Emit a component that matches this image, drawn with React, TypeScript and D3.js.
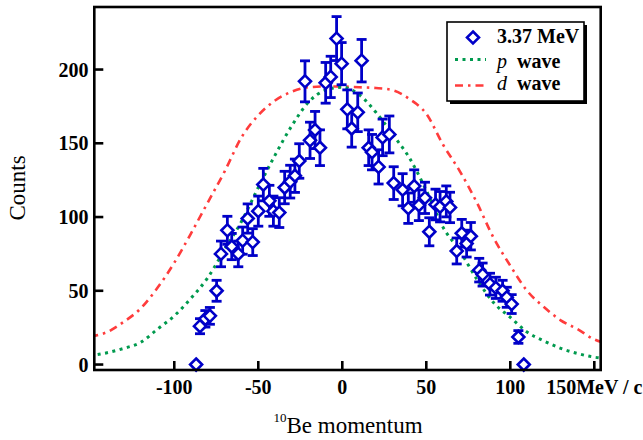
import React from "react";
import * as d3 from "d3";

// ---- data ----
const momentum = [
  -87, -84.7, -81.5, -78.8, -74.8, -72.2, -68.4, -65.8, -61.9, -59.3, -56.3, -53.3, -50, -47,
  -43.4, -41, -37.5, -34.3, -31, -28.2, -25.6, -22.2, -19.2, -16.2, -13.3, -9.9, -6.9, -3.4,
  -0.4, 3, 5.6, 9.2, 11.5, 15.7, 17.7, 21.6, 24, 28, 30.6, 35.9, 39.3, 42.8, 45.6, 49.2, 51.8,
  55.5, 58.2, 61.9, 64.1, 68.1, 71.1, 74, 76.5, 81.5, 83.5, 87.9, 91.4, 95.4, 97.9, 100.8,
  104.8, 108,
];
const counts = [
  0, 26, 31, 33, 50, 75, 91, 80, 75, 84, 99, 83, 104, 122,
  111, 104, 103, 120, 124, 128, 138, 192, 152, 159, 147, 191, 195, 221,
  204, 173, 160, 171, 206, 147, 144, 134, 154, 156, 123, 118.5, 106, 121, 108, 113, 90,
  108.5, 107, 110.6, 106.5, 77, 89, 82, 87, 64, 61, 54.5, 52, 50, 45.6, 41,
  18.7, 0,
];
const errors = [
  0, 5.1, 5.6, 5.7, 7.1, 8.7, 9.5, 8.9, 8.7, 9.2, 9.9, 9.1, 10.2, 11,
  10.5, 10.2, 10.1, 11, 11.1, 11.3, 11.7, 13.9, 12.3, 12.6, 12.1, 13.8, 14, 14.9,
  14.3, 13.2, 12.6, 13.1, 14.4, 12.1, 12, 11.6, 12.4, 12.5, 11.1, 10.9, 10.3, 11, 10.4, 10.6, 9.5,
  10.4, 10.3, 10.5, 10.3, 8.8, 9.4, 9.1, 9.3, 8, 7.8, 7.4, 7.2, 7.1, 6.8, 6.4,
  4.3, 0,
];

const curveX = [
  -150, -140, -130, -120, -110, -100, -90, -80, -70, -60, -50, -40, -30, -20, -10, 0,
  10, 20, 30, 40, 50, 60, 70, 80, 90, 100, 110, 120, 130, 140, 150, 160,
];
const pWave = [
  6, 8, 11, 15, 24, 33, 45, 59, 78, 97, 120, 142, 162, 178, 186, 188,
  183, 171, 156, 140, 118, 93, 77, 58, 42, 32, 22, 16, 11, 7.5, 5, 4,
];
const dWave = [
  19, 22, 29, 38, 52, 69, 89, 110, 131, 154, 169, 179, 185, 188, 188.5, 188.5,
  188, 187.5, 186, 180, 170, 149, 131, 110, 86, 67, 50, 39, 30, 24, 17, 14,
];

const xTicks = [-100, -50, 0, 50, 100, 150];
const xTickLabels = ["-100", "-50", "0", "50", "100", "150MeV / c"];
const yTicks = [0, 50, 100, 150, 200];

const legendLabel = "3.37 MeV";

// ---- styles ----
const BLUE = "#0000c8";
const GREEN = "#009a4e";
const RED = "#ff3c3c";
const SERIF = "'Liberation Serif', 'Times New Roman', serif";

export default function App() {
  const W = 643;
  const H = 440;
  const left = 94.3, right = 600.7, top = 7, bottom = 370;
  const x = d3.scaleLinear().domain([-147.6, 153.8]).range([left, right]);
  const y = d3.scaleLinear().domain([-3.7, 242.4]).range([bottom, top]);

  const line = d3
    .line<number>()
    .x((_, i) => x(curveX[i]))
    .curve(d3.curveMonotoneX);
  const pPath = line.y((d) => y(d))(pWave) || "";
  const dPath = line.y((d) => y(d))(dWave) || "";

  const diamond = (cx: number, cy: number, r: number) =>
    `M${cx},${cy - r}L${cx + r},${cy}L${cx},${cy + r}L${cx - r},${cy}Z`;

  const cap = 5;
  const dr = 6;

  return (
    <svg
      width={W}
      height={H}
      style={{ position: "absolute", left: 0, top: 0, background: "#fff" }}
      fontFamily={SERIF}
    >
      <defs>
        <clipPath id="plotClip">
          <rect x={left} y={top} width={right - left} height={bottom - top} />
        </clipPath>
      </defs>

      {/* theory curves */}
      <g clipPath="url(#plotClip)">
        <path d={dPath} fill="none" stroke={RED} strokeWidth={2.6} strokeDasharray="8 5 2.5 5" />
        <path d={pPath} fill="none" stroke={GREEN} strokeWidth={3} strokeDasharray="3 4.5" />
      </g>

      {/* error bars */}
      <g stroke={BLUE} strokeWidth={2.8} fill="none">
        {momentum.map((m, i) => {
          const e = errors[i];
          if (!e) return null;
          const cx = x(m);
          const y1 = y(counts[i] + e);
          const y0 = y(counts[i] - e);
          return (
            <g key={"e" + i}>
              <line x1={cx} x2={cx} y1={y1} y2={y0} />
              <line x1={cx - cap} x2={cx + cap} y1={y1} y2={y1} />
              <line x1={cx - cap} x2={cx + cap} y1={y0} y2={y0} />
            </g>
          );
        })}
      </g>
      {/* data markers */}
      <g stroke={BLUE} strokeWidth={2.6} fill="#fff">
        {momentum.map((m, i) => (
          <path key={"d" + i} d={diamond(x(m), y(counts[i]), dr)} />
        ))}
      </g>

      {/* frame */}
      <rect
        x={left}
        y={top}
        width={right - left}
        height={bottom - top}
        fill="none"
        stroke="#000"
        strokeWidth={2.6}
      />

      {/* x ticks */}
      <g>
        {xTicks.map((t, i) => (
          <g key={"xt" + i}>
            <line x1={x(t)} x2={x(t)} y1={bottom} y2={bottom - 9} stroke="#000" strokeWidth={2.6} />
            <text
              x={x(t)}
              y={394}
              textAnchor="middle"
              fontSize={20}
              fontWeight="bold"
              fill="#000"
            >
              {xTickLabels[i]}
            </text>
          </g>
        ))}
      </g>
      {/* y ticks */}
      <g>
        {yTicks.map((t, i) => (
          <g key={"yt" + i}>
            <line x1={left} x2={left + 9} y1={y(t)} y2={y(t)} stroke="#000" strokeWidth={2.6} />
            <text
              x={88.5}
              y={y(t)}
              dy="0.35em"
              textAnchor="end"
              fontSize={20}
              fontWeight="bold"
              fill="#000"
            >
              {t}
            </text>
          </g>
        ))}
      </g>

      {/* axis titles */}
      <text
        transform="translate(25,188) rotate(-90)"
        textAnchor="middle"
        fontSize={23}
        fill="#000"
      >
        Counts
      </text>
      <text x={348} y={433} textAnchor="middle" fontSize={23} fill="#000">
        <tspan fontSize={13} dy={-11}>10</tspan>
        <tspan dy={11}>Be momentum</tspan>
      </text>

      {/* legend */}
      <g>
        <rect x={450} y={25} width={137} height={79} fill="#000" />
        <rect x={447} y={22} width={137} height={79} fill="#fff" stroke="#000" strokeWidth={1.6} />
        <path d={diamond(473, 37.5, 6)} stroke={BLUE} strokeWidth={2.6} fill="#fff" />
        <text x={497} y={42.5} fontSize={20} fontWeight="bold" fill="#000">
          {legendLabel}
        </text>
        <line x1={455} x2={486} y1={59.5} y2={59.5} stroke={GREEN} strokeWidth={3} strokeDasharray="3 4.5" />
        <text x={497} y={68} fontSize={20} fill="#000">
          <tspan fontStyle="italic">p</tspan>
          <tspan fontWeight="bold" dx={10}>wave</tspan>
        </text>
        <line x1={455} x2={486} y1={85.5} y2={85.5} stroke={RED} strokeWidth={2.6} strokeDasharray="8 5 2.5 5" />
        <text x={497} y={90} fontSize={20} fill="#000">
          <tspan fontStyle="italic">d</tspan>
          <tspan fontWeight="bold" dx={10}>wave</tspan>
        </text>
      </g>
    </svg>
  );
}
